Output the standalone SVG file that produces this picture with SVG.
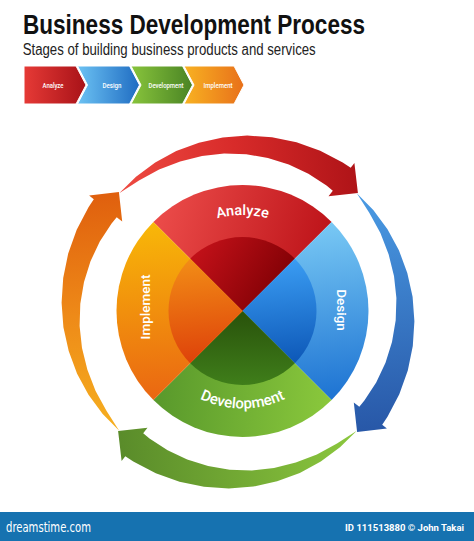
<svg xmlns="http://www.w3.org/2000/svg" xmlns:xlink="http://www.w3.org/1999/xlink" width="474" height="541" viewBox="0 0 474 541">
<style>
.title{font-family:"Liberation Sans",Arial,sans-serif;font-weight:bold;fill:#111;}
.sub{font-family:"Liberation Sans",Arial,sans-serif;fill:#222;}
.chev{font-family:Roboto,"DejaVu Sans",sans-serif;font-weight:500;font-size:7px;fill:#fff;text-anchor:middle;}
.lbl{font-family:Roboto,"DejaVu Sans",sans-serif;font-weight:500;fill:#fff;text-anchor:middle;}
.chevshape{stroke:#fff;stroke-width:1;}
</style>
<defs>
<linearGradient id="cRed" x1="0" y1="0" x2="1" y2="0"><stop offset="0" stop-color="#e63a36"/><stop offset="1" stop-color="#a81218"/></linearGradient>
<linearGradient id="cBlue" x1="0" y1="0" x2="1" y2="0"><stop offset="0" stop-color="#6cc2f3"/><stop offset="1" stop-color="#1f6cc2"/></linearGradient>
<linearGradient id="cGreen" x1="0" y1="0" x2="1" y2="0"><stop offset="0" stop-color="#88c43c"/><stop offset="1" stop-color="#4a8424"/></linearGradient>
<linearGradient id="cOrange" x1="0" y1="0" x2="1" y2="0"><stop offset="0" stop-color="#f8b222"/><stop offset="1" stop-color="#e8701a"/></linearGradient>

<linearGradient id="aRed" gradientUnits="userSpaceOnUse" x1="120" y1="200" x2="355" y2="180"><stop offset="0" stop-color="#ee4b42"/><stop offset="0.5" stop-color="#d82b2a"/><stop offset="1" stop-color="#b01418"/></linearGradient>
<linearGradient id="aBlue" gradientUnits="userSpaceOnUse" x1="120" y1="200" x2="355" y2="180"><stop offset="0" stop-color="#4a9be4"/><stop offset="1" stop-color="#2858a8"/></linearGradient>
<linearGradient id="aGreen" gradientUnits="userSpaceOnUse" x1="120" y1="200" x2="355" y2="180"><stop offset="0" stop-color="#8cc83e"/><stop offset="1" stop-color="#5a8c2a"/></linearGradient>
<linearGradient id="aOrange" gradientUnits="userSpaceOnUse" x1="120" y1="200" x2="355" y2="180"><stop offset="0" stop-color="#f6b020"/><stop offset="0.5" stop-color="#ee8a18"/><stop offset="1" stop-color="#e0600e"/></linearGradient>

<linearGradient id="pRedO" gradientUnits="userSpaceOnUse" x1="165" y1="205" x2="330" y2="250"><stop offset="0" stop-color="#ea4a48"/><stop offset="1" stop-color="#bc1218"/></linearGradient>
<linearGradient id="pRedI" gradientUnits="userSpaceOnUse" x1="200" y1="250" x2="280" y2="300"><stop offset="0" stop-color="#c01018"/><stop offset="1" stop-color="#7e0004"/></linearGradient>
<linearGradient id="pBlueO" gradientUnits="userSpaceOnUse" x1="320" y1="225" x2="340" y2="400"><stop offset="0" stop-color="#78c8f4"/><stop offset="1" stop-color="#1c72d2"/></linearGradient>
<linearGradient id="pBlueI" gradientUnits="userSpaceOnUse" x1="290" y1="260" x2="300" y2="365"><stop offset="0" stop-color="#3a9cf2"/><stop offset="1" stop-color="#0c56b6"/></linearGradient>
<linearGradient id="pGreenO" gradientUnits="userSpaceOnUse" x1="160" y1="395" x2="330" y2="405"><stop offset="0" stop-color="#5a9a2c"/><stop offset="1" stop-color="#8ac83c"/></linearGradient>
<linearGradient id="pGreenI" gradientUnits="userSpaceOnUse" x1="240" y1="315" x2="240" y2="385"><stop offset="0" stop-color="#2a540c"/><stop offset="1" stop-color="#3f7e1a"/></linearGradient>
<linearGradient id="pOrangeO" gradientUnits="userSpaceOnUse" x1="150" y1="222" x2="160" y2="400"><stop offset="0" stop-color="#f8b808"/><stop offset="1" stop-color="#ea6612"/></linearGradient>
<linearGradient id="pOrangeI" gradientUnits="userSpaceOnUse" x1="190" y1="260" x2="200" y2="362"><stop offset="0" stop-color="#f28c16"/><stop offset="1" stop-color="#de420a"/></linearGradient>

<path id="arrowShape" d="M119.2,193.2 L136.0,176.7 L155.2,162.5 L176.2,151.1 L198.9,142.7 L222.7,137.4 L247.2,135.6 L272.0,137.2 L296.5,142.2 L320.2,150.7 L342.7,162.5 L350.7,167.8 L354.4,163.1 L357.9,192.9 L328.5,196.2 L332.8,190.7 L326.5,185.6 L308.4,173.8 L288.8,164.5 L267.9,158.0 L246.3,154.3 L224.1,153.6 L202.0,156.0 L180.2,161.4 L159.1,169.6 L139.0,180.6 Z"/>
<path id="arcTop" d="M159.36,263 A96,96 0 0 1 325.64,263"/>
<path id="arcBot" d="M158.06,359.75 A97.5,97.5 0 0 0 326.94,359.75"/>
</defs>

<rect x="0" y="0" width="474" height="541" fill="#ffffff"/>

<g id="title">
<text class="title" x="23" y="33.5" font-size="27" textLength="342" lengthAdjust="spacingAndGlyphs">Business Development Process</text>
<text class="sub" x="22.7" y="55" font-size="16" textLength="293" lengthAdjust="spacingAndGlyphs">Stages of building business products and services</text>
</g>

<g id="legend">
<g id="chev-analyze"><path class="chevshape" d="M24,66 L76,66 L86,85 L76,104 L24,104 Z" fill="url(#cRed)"/><text class="chev" x="53" y="87.5" textLength="21" lengthAdjust="spacingAndGlyphs">Analyze</text></g>
<g id="chev-design"><path class="chevshape" d="M77.5,66 L129.5,66 L139.5,85 L129.5,104 L77.5,104 L87.5,85 Z" fill="url(#cBlue)"/><text class="chev" x="112" y="87.5" textLength="19" lengthAdjust="spacingAndGlyphs">Design</text></g>
<g id="chev-development"><path class="chevshape" d="M131,66 L182.5,66 L192.5,85 L182.5,104 L131,104 L141,85 Z" fill="url(#cGreen)"/><text class="chev" x="166" y="87.5" textLength="35" lengthAdjust="spacingAndGlyphs">Development</text></g>
<g id="chev-implement"><path class="chevshape" d="M184,66 L234,66 L244,85 L234,104 L184,104 L194,85 Z" fill="url(#cOrange)"/><text class="chev" x="218" y="87.5" textLength="29" lengthAdjust="spacingAndGlyphs">Implement</text></g>
</g>

<g id="connectors">
<use id="arrow-red" xlink:href="#arrowShape" href="#arrowShape" fill="url(#aRed)"/>
<use id="arrow-blue" xlink:href="#arrowShape" href="#arrowShape" fill="url(#aBlue)" transform="rotate(90 238 312)"/>
<use id="arrow-green" xlink:href="#arrowShape" href="#arrowShape" fill="url(#aGreen)" transform="rotate(180 238 312)"/>
<use id="arrow-orange" xlink:href="#arrowShape" href="#arrowShape" fill="url(#aOrange)" transform="rotate(270 238 312)"/>
</g>

<g id="analyze">
<path d="M242.5,311 L153.4,221.9 A126,126 0 0 1 331.6,221.9 Z" fill="url(#pRedO)"/>
<path d="M242.5,311 L190.17,258.67 A74,74 0 0 1 294.83,258.67 Z" fill="url(#pRedI)"/>
<text class="lbl" font-size="14.5"><textPath xlink:href="#arcTop" href="#arcTop" startOffset="50%">Analyze</textPath></text>
</g>
<g id="design">
<path d="M242.5,311 L331.6,221.9 A126,126 0 0 1 331.6,400.1 Z" fill="url(#pBlueO)"/>
<path d="M242.5,311 L294.83,258.67 A74,74 0 0 1 294.83,363.33 Z" fill="url(#pBlueI)"/>
<text class="lbl" font-size="13.5" transform="translate(337,310) rotate(90)" x="0" y="0">Design</text>
</g>
<g id="development">
<path d="M242.5,311 L331.6,400.1 A126,126 0 0 1 153.4,400.1 Z" fill="url(#pGreenO)"/>
<path d="M242.5,311 L294.83,363.33 A74,74 0 0 1 190.17,363.33 Z" fill="url(#pGreenI)"/>
<text class="lbl" font-size="15"><textPath xlink:href="#arcBot" href="#arcBot" startOffset="50%">Development</textPath></text>
</g>
<g id="implement">
<path d="M242.5,311 L153.4,400.1 A126,126 0 0 1 153.4,221.9 Z" fill="url(#pOrangeO)"/>
<path d="M242.5,311 L190.17,363.33 A74,74 0 0 1 190.17,258.67 Z" fill="url(#pOrangeI)"/>
<text class="lbl" font-size="13.5" transform="translate(150,307) rotate(-90)" x="0" y="0">Implement</text>
</g>

<g id="footer">
<rect x="0" y="512" width="474" height="29" fill="#1672b0"/>
<text x="6" y="532" font-family="'DejaVu Sans',Roboto,sans-serif" font-size="14" fill="#fff" textLength="85" lengthAdjust="spacingAndGlyphs">dreamstime.com</text>
<text x="464" y="531" font-family="Roboto,'DejaVu Sans',sans-serif" font-weight="bold" font-size="9.5" fill="#fff" text-anchor="end">ID 111513880 © John Takai</text>
</g>
</svg>
